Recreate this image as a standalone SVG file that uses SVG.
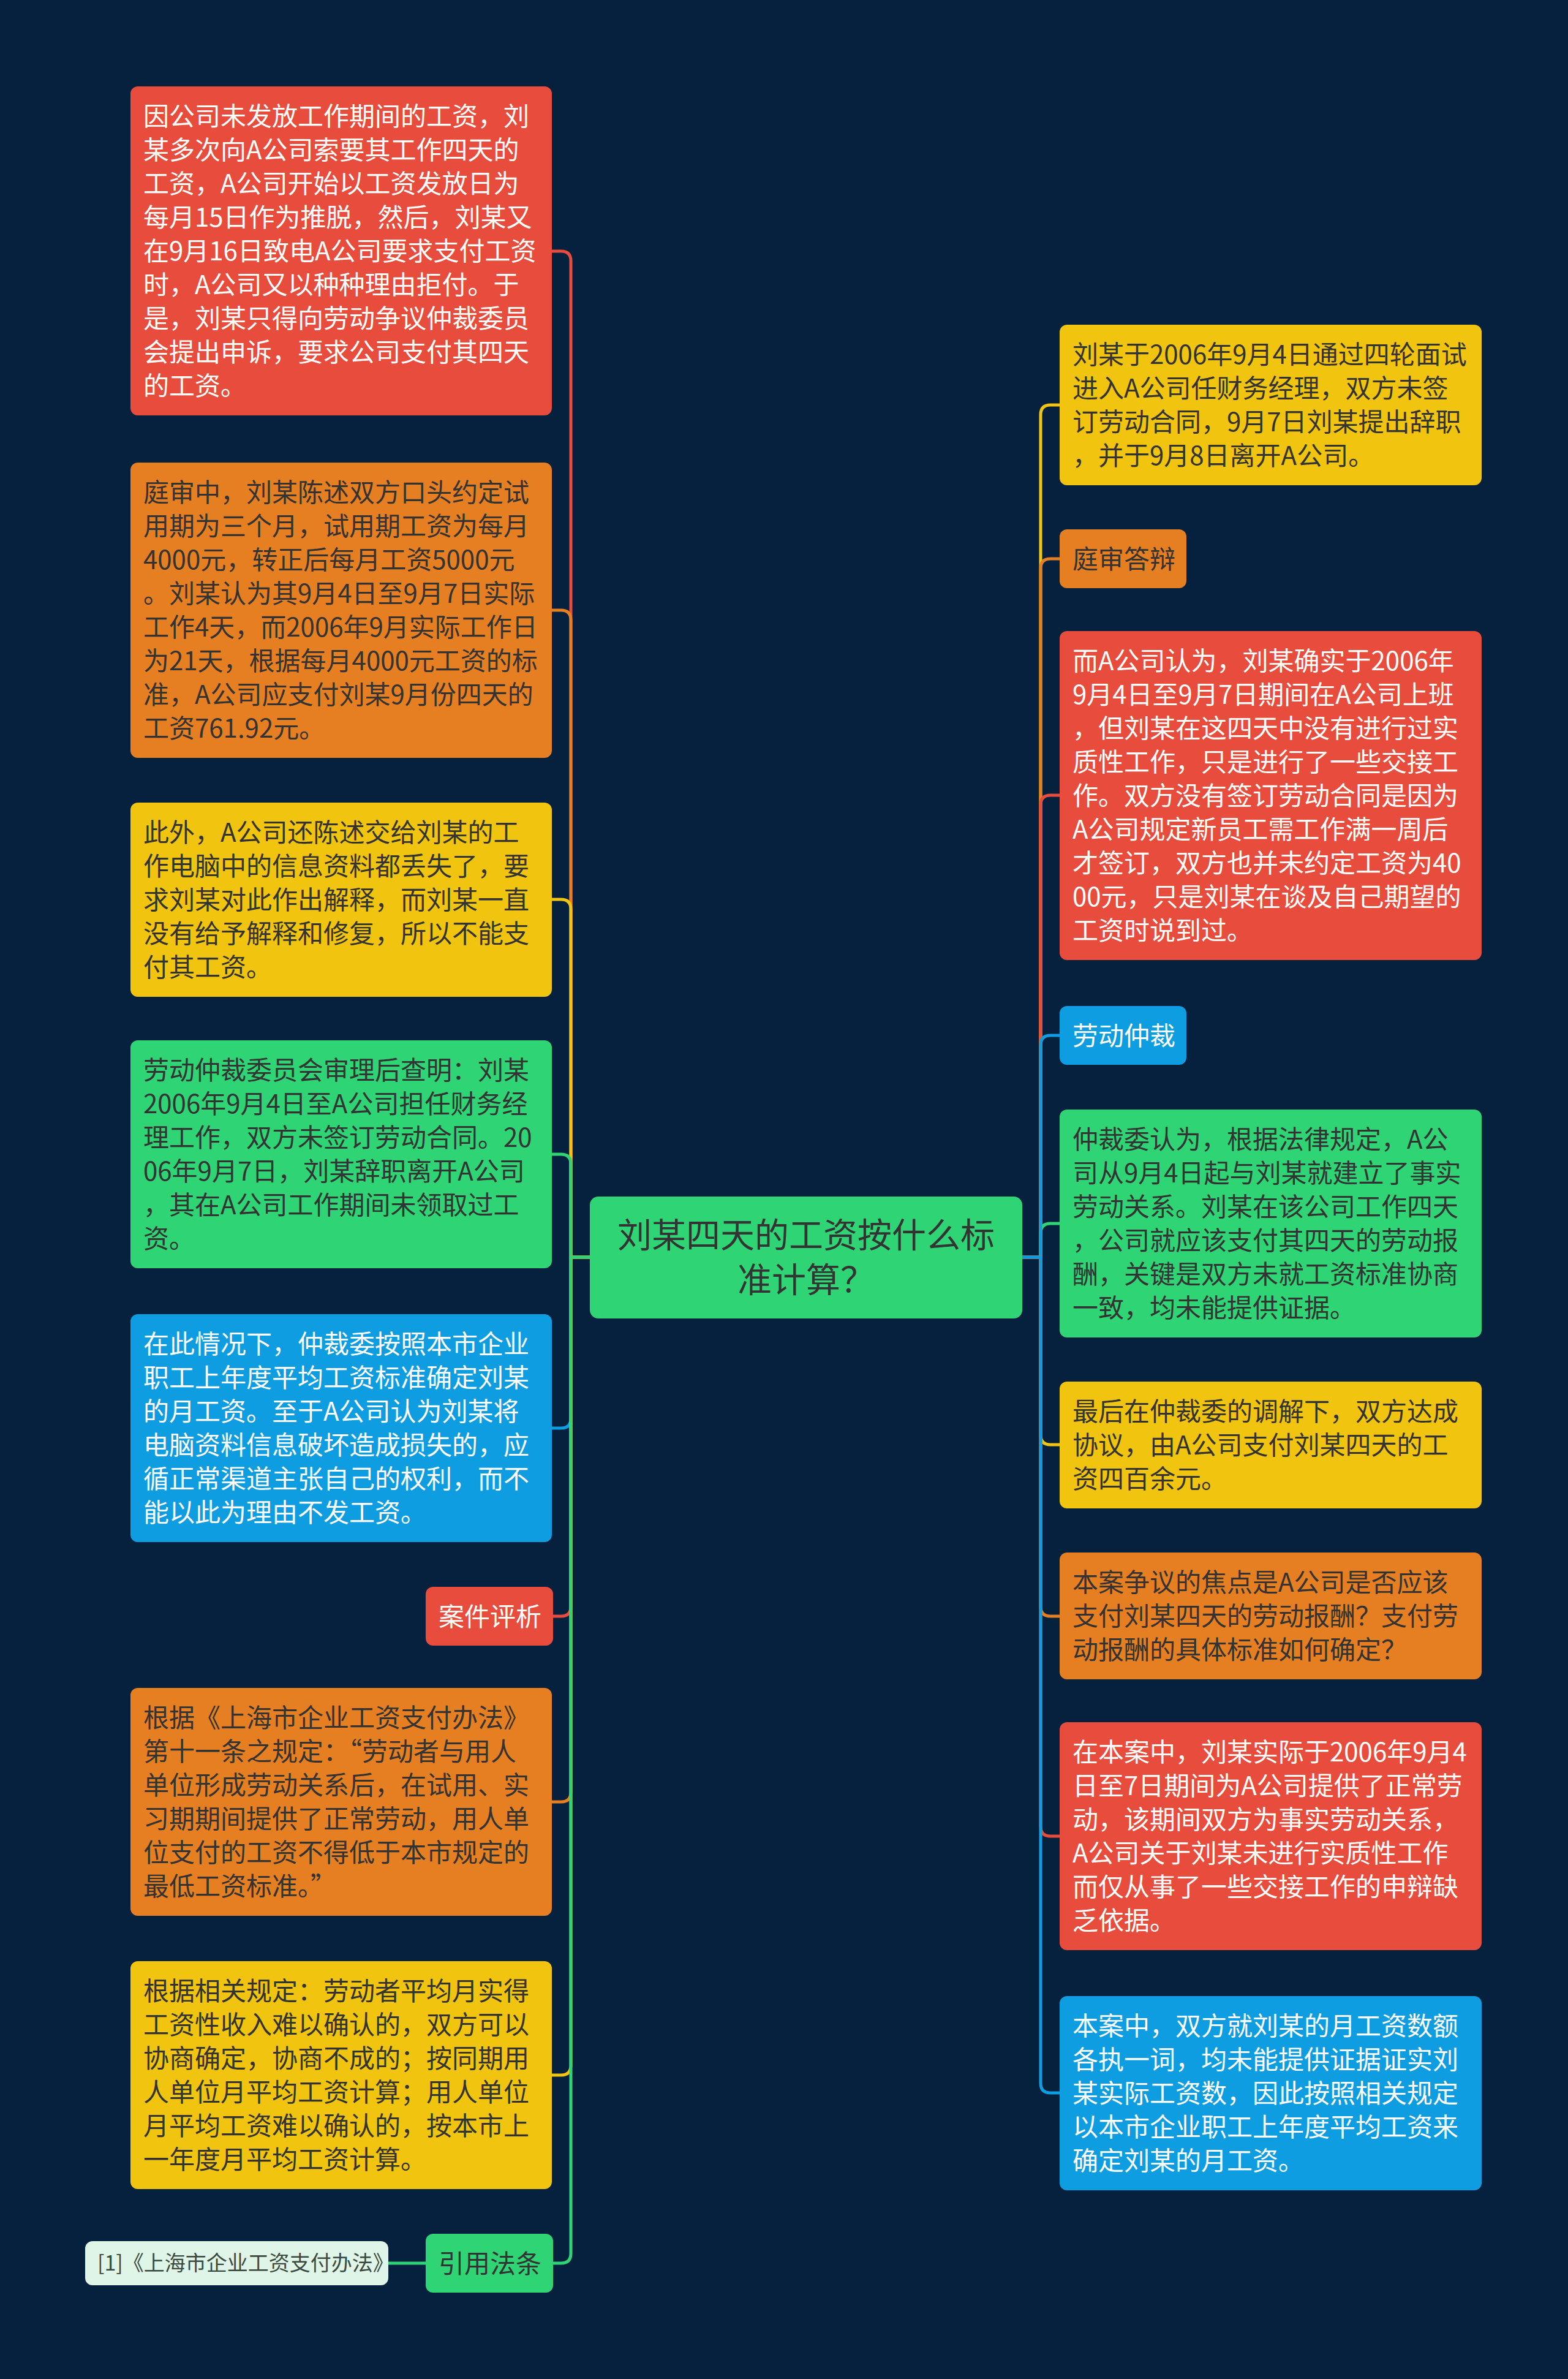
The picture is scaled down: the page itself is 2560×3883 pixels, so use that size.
<svg xmlns="http://www.w3.org/2000/svg" width="2560" height="3883" viewBox="0 0 2560 3883">
<style>
.t{font-family:"Noto Sans CJK SC","Noto Sans",sans-serif;font-size:42px}
.w{fill:#ffffff}
.d{fill:#333333}
.c{fill:none;stroke-width:5;stroke-linejoin:round}
.red{fill:#e74c3c}.ora{fill:#e67e22}.yel{fill:#f1c40f}.grn{fill:#2fd474}.blu{fill:#0e9de0}
.sr{stroke:#e74c3c}.so{stroke:#e67e22}.sy{stroke:#f1c40f}.sg{stroke:#2fd474}.sb{stroke:#0e9de0}
</style>
<rect x="0" y="0" width="2560" height="3883" fill="#06213e"/>
<g id="connectors">
<path class="c sr" d="M963 2052 H932 V426 Q932 410 916 410 H901"/>
<path class="c so" d="M963 2052 H932 V1012 Q932 996 916 996 H901"/>
<path class="c sy" d="M963 2052 H932 V1484 Q932 1468 916 1468 H901"/>
<path class="c sg" d="M963 2052 H932 V1900 Q932 1884 916 1884 H901"/>
<path class="c sb" d="M963 2052 H932 V2315 Q932 2331 916 2331 H901"/>
<path class="c sr" d="M963 2052 H932 V2622 Q932 2638 916 2638 H903"/>
<path class="c so" d="M963 2052 H932 V2925 Q932 2941 916 2941 H901"/>
<path class="c sy" d="M963 2052 H932 V3371 Q932 3387 916 3387 H901"/>
<path class="c sg" d="M963 2052 H932 V3678 Q932 3694 916 3694 H903"/>
<path class="c sg" d="M695 3694 H634"/>
<path class="c sy" d="M1669 2052 H1699 V677 Q1699 661 1715 661 H1730"/>
<path class="c so" d="M1669 2052 H1699 V928 Q1699 912 1715 912 H1730"/>
<path class="c sr" d="M1669 2052 H1699 V1314 Q1699 1298 1715 1298 H1730"/>
<path class="c sg" d="M1669 2052 H1699 V2013 Q1699 1997 1715 1997 H1730"/>
<path class="c sb" d="M1669 2052 H1699 V1706 Q1699 1690 1715 1690 H1730"/>
<path class="c sy" d="M1669 2052 H1699 V2342 Q1699 2358 1715 2358 H1730"/>
<path class="c so" d="M1669 2052 H1699 V2622 Q1699 2638 1715 2638 H1730"/>
<path class="c sr" d="M1669 2052 H1699 V2981 Q1699 2997 1715 2997 H1730"/>
<path class="c sb" d="M1669 2052 H1699 V3400 Q1699 3416 1715 3416 H1730"/>
</g>
<g id="root">
<rect class="grn" x="963" y="1953" width="706" height="199" rx="14"/>
<text class="t d" style="font-size:56px" text-anchor="middle"><tspan x="1316" y="2036">刘某四天的工资按什么标</tspan><tspan x="1316" y="2109">准计算？</tspan></text>
</g>
<g id="L1">
<rect class="red" x="213" y="141" width="688" height="537" rx="12"/>
<text class="t w"><tspan x="234" y="205">因公司未发放工作期间的工资，刘</tspan><tspan x="234" y="260">某多次向A公司索要其工作四天的</tspan><tspan x="234" y="315">工资，A公司开始以工资发放日为</tspan><tspan x="234" y="370">每月15日作为推脱，然后，刘某又</tspan><tspan x="234" y="425">在9月16日致电A公司要求支付工资</tspan><tspan x="234" y="480">时，A公司又以种种理由拒付。于</tspan><tspan x="234" y="535">是，刘某只得向劳动争议仲裁委员</tspan><tspan x="234" y="590">会提出申诉，要求公司支付其四天</tspan><tspan x="234" y="645">的工资。</tspan></text>
</g>
<g id="L2">
<rect class="ora" x="213" y="755" width="688" height="482" rx="12"/>
<text class="t d"><tspan x="234" y="819">庭审中，刘某陈述双方口头约定试</tspan><tspan x="234" y="874">用期为三个月，试用期工资为每月</tspan><tspan x="234" y="929">4000元，转正后每月工资5000元</tspan><tspan x="234" y="984">。刘某认为其9月4日至9月7日实际</tspan><tspan x="234" y="1039">工作4天，而2006年9月实际工作日</tspan><tspan x="234" y="1094">为21天，根据每月4000元工资的标</tspan><tspan x="234" y="1149">准，A公司应支付刘某9月份四天的</tspan><tspan x="234" y="1204">工资761.92元。</tspan></text>
</g>
<g id="L3">
<rect class="yel" x="213" y="1310" width="688" height="317" rx="12"/>
<text class="t d"><tspan x="234" y="1374">此外，A公司还陈述交给刘某的工</tspan><tspan x="234" y="1429">作电脑中的信息资料都丢失了，要</tspan><tspan x="234" y="1484">求刘某对此作出解释，而刘某一直</tspan><tspan x="234" y="1539">没有给予解释和修复，所以不能支</tspan><tspan x="234" y="1594">付其工资。</tspan></text>
</g>
<g id="L4">
<rect class="grn" x="213" y="1698" width="688" height="372" rx="12"/>
<text class="t d"><tspan x="234" y="1762">劳动仲裁委员会审理后查明：刘某</tspan><tspan x="234" y="1817">2006年9月4日至A公司担任财务经</tspan><tspan x="234" y="1872">理工作，双方未签订劳动合同。20</tspan><tspan x="234" y="1927">06年9月7日，刘某辞职离开A公司</tspan><tspan x="234" y="1982">，其在A公司工作期间未领取过工</tspan><tspan x="234" y="2037">资。</tspan></text>
</g>
<g id="L5">
<rect class="blu" x="213" y="2145" width="688" height="372" rx="12"/>
<text class="t w"><tspan x="234" y="2209">在此情况下，仲裁委按照本市企业</tspan><tspan x="234" y="2264">职工上年度平均工资标准确定刘某</tspan><tspan x="234" y="2319">的月工资。至于A公司认为刘某将</tspan><tspan x="234" y="2374">电脑资料信息破坏造成损失的，应</tspan><tspan x="234" y="2429">循正常渠道主张自己的权利，而不</tspan><tspan x="234" y="2484">能以此为理由不发工资。</tspan></text>
</g>
<g id="L6">
<rect class="red" x="695" y="2590" width="208" height="96" rx="12"/>
<text class="t w" x="716" y="2654">案件评析</text>
</g>
<g id="L7">
<rect class="ora" x="213" y="2755" width="688" height="372" rx="12"/>
<text class="t d"><tspan x="234" y="2819">根据《上海市企业工资支付办法》</tspan><tspan x="234" y="2874">第十一条之规定：“劳动者与用人</tspan><tspan x="234" y="2929">单位形成劳动关系后，在试用、实</tspan><tspan x="234" y="2984">习期期间提供了正常劳动，用人单</tspan><tspan x="234" y="3039">位支付的工资不得低于本市规定的</tspan><tspan x="234" y="3094">最低工资标准。”</tspan></text>
</g>
<g id="L8">
<rect class="yel" x="213" y="3201" width="688" height="372" rx="12"/>
<text class="t d"><tspan x="234" y="3265">根据相关规定：劳动者平均月实得</tspan><tspan x="234" y="3320">工资性收入难以确认的，双方可以</tspan><tspan x="234" y="3375">协商确定，协商不成的；按同期用</tspan><tspan x="234" y="3430">人单位月平均工资计算；用人单位</tspan><tspan x="234" y="3485">月平均工资难以确认的，按本市上</tspan><tspan x="234" y="3540">一年度月平均工资计算。</tspan></text>
</g>
<g id="L9">
<rect class="grn" x="695" y="3646" width="208" height="96" rx="12"/>
<text class="t d" x="716" y="3710">引用法条</text>
</g>
<g id="L10">
<rect x="139" y="3658" width="495" height="72" rx="12" fill="#dff5e8"/>
<text class="t" style="font-size:34px" fill="#3a4a40" x="159" y="3706">[1]《上海市企业工资支付办法》</text>
</g>
<g id="R1">
<rect class="yel" x="1730" y="530" width="689" height="262" rx="12"/>
<text class="t d"><tspan x="1751" y="594">刘某于2006年9月4日通过四轮面试</tspan><tspan x="1751" y="649">进入A公司任财务经理，双方未签</tspan><tspan x="1751" y="704">订劳动合同，9月7日刘某提出辞职</tspan><tspan x="1751" y="759">，并于9月8日离开A公司。</tspan></text>
</g>
<g id="R2">
<rect class="ora" x="1730" y="864" width="207" height="96" rx="12"/>
<text class="t d" x="1751" y="928">庭审答辩</text>
</g>
<g id="R3">
<rect class="red" x="1730" y="1030" width="689" height="537" rx="12"/>
<text class="t w"><tspan x="1751" y="1094">而A公司认为，刘某确实于2006年</tspan><tspan x="1751" y="1149">9月4日至9月7日期间在A公司上班</tspan><tspan x="1751" y="1204">，但刘某在这四天中没有进行过实</tspan><tspan x="1751" y="1259">质性工作，只是进行了一些交接工</tspan><tspan x="1751" y="1314">作。双方没有签订劳动合同是因为</tspan><tspan x="1751" y="1369">A公司规定新员工需工作满一周后</tspan><tspan x="1751" y="1424">才签订，双方也并未约定工资为40</tspan><tspan x="1751" y="1479">00元，只是刘某在谈及自己期望的</tspan><tspan x="1751" y="1534">工资时说到过。</tspan></text>
</g>
<g id="R4">
<rect class="blu" x="1730" y="1642" width="207" height="96" rx="12"/>
<text class="t w" x="1751" y="1706">劳动仲裁</text>
</g>
<g id="R5">
<rect class="grn" x="1730" y="1811" width="689" height="372" rx="12"/>
<text class="t d"><tspan x="1751" y="1875">仲裁委认为，根据法律规定，A公</tspan><tspan x="1751" y="1930">司从9月4日起与刘某就建立了事实</tspan><tspan x="1751" y="1985">劳动关系。刘某在该公司工作四天</tspan><tspan x="1751" y="2040">，公司就应该支付其四天的劳动报</tspan><tspan x="1751" y="2095">酬，关键是双方未就工资标准协商</tspan><tspan x="1751" y="2150">一致，均未能提供证据。</tspan></text>
</g>
<g id="R6">
<rect class="yel" x="1730" y="2255" width="689" height="207" rx="12"/>
<text class="t d"><tspan x="1751" y="2319">最后在仲裁委的调解下，双方达成</tspan><tspan x="1751" y="2374">协议，由A公司支付刘某四天的工</tspan><tspan x="1751" y="2429">资四百余元。</tspan></text>
</g>
<g id="R7">
<rect class="ora" x="1730" y="2534" width="689" height="207" rx="12"/>
<text class="t d"><tspan x="1751" y="2598">本案争议的焦点是A公司是否应该</tspan><tspan x="1751" y="2653">支付刘某四天的劳动报酬？支付劳</tspan><tspan x="1751" y="2708">动报酬的具体标准如何确定？</tspan></text>
</g>
<g id="R8">
<rect class="red" x="1730" y="2811" width="689" height="372" rx="12"/>
<text class="t w"><tspan x="1751" y="2875">在本案中，刘某实际于2006年9月4</tspan><tspan x="1751" y="2930">日至7日期间为A公司提供了正常劳</tspan><tspan x="1751" y="2985">动，该期间双方为事实劳动关系，</tspan><tspan x="1751" y="3040">A公司关于刘某未进行实质性工作</tspan><tspan x="1751" y="3095">而仅从事了一些交接工作的申辩缺</tspan><tspan x="1751" y="3150">乏依据。</tspan></text>
</g>
<g id="R9">
<rect class="blu" x="1730" y="3258" width="689" height="317" rx="12"/>
<text class="t w"><tspan x="1751" y="3322">本案中，双方就刘某的月工资数额</tspan><tspan x="1751" y="3377">各执一词，均未能提供证据证实刘</tspan><tspan x="1751" y="3432">某实际工资数，因此按照相关规定</tspan><tspan x="1751" y="3487">以本市企业职工上年度平均工资来</tspan><tspan x="1751" y="3542">确定刘某的月工资。</tspan></text>
</g>
</svg>
